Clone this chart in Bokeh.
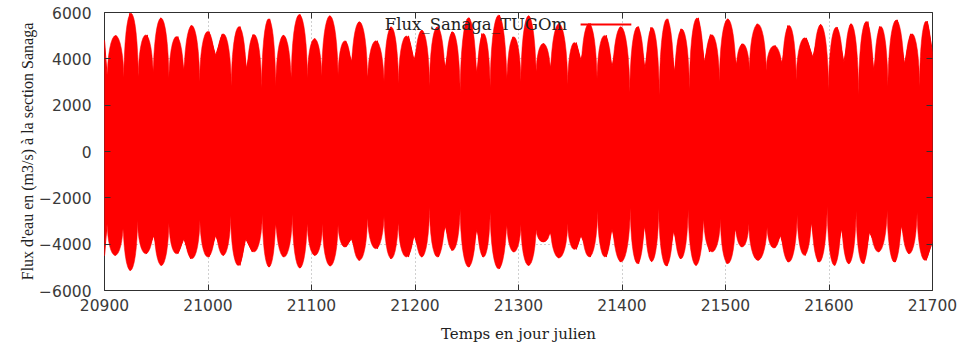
from bokeh.plotting import figure
from bokeh.models import FixedTicker, LinearAxis, Label, BoxAnnotation, Range1d, ColumnDataSource
from bokeh.embed import file_html
from bokeh.resources import INLINE

# Upper envelope of the tidal flux: day, m3/s
# (odd indices = neap dips, even indices = spring peaks)
upper_day = [20900, 20902.6, 20911, 20918.7, 20924.5, 20932.6, 20941.3, 20947, 20954.2, 20962.2,
             20970.9, 20976.7, 20983.8, 20991.9, 21000.9, 21007.4, 21013.8, 21022.5, 21030.9, 21037.3,
             21043.5, 21051.8, 21059.6, 21065.4, 21072.8, 21080.5, 21088.9, 21096, 21103.1, 21109.9,
             21117.6, 21125.6, 21133.1, 21138.6, 21146, 21154, 21163.7, 21170.1, 21176.6, 21184,
             21193.7, 21199.1, 21206.6, 21214, 21222.7, 21229.1, 21235.6, 21243.6, 21252.3, 21259.8,
             21264.6, 21272.6, 21281.7, 21288.8, 21294.6, 21302.3, 21309.8, 21317.1, 21324.3, 21330.7,
             21338.8, 21347.5, 21355.8, 21360.3, 21369.4, 21375.8, 21384.8, 21390.3, 21398.4, 21407.5,
             21416, 21422.2, 21428, 21436, 21444.2, 21450.6, 21457, 21465.1, 21473.8, 21479.6,
             21485.4, 21494.1, 21502.2, 21510.3, 21515.8, 21523.1, 21530.6, 21539.3, 21548, 21554.7,
             21560.2, 21568.3, 21578, 21584.4, 21591.8, 21599.5, 21607.9, 21614.4, 21620.8, 21628.5,
             21637.6, 21643.4, 21648.8, 21656.9, 21666, 21673, 21678.8, 21687.5, 21695, 21700]
upper_val = [4800, 3200, 5005, 3061, 5968, 3133, 5033, 3277, 5768, 2989,
             4961, 3420, 5437, 2917, 5178, 4141, 5077, 2702, 5394, 3565,
             5048, 2629, 5725, 2642, 5018, 3074, 5912, 3074, 4875, 3147,
             5855, 3118, 4775, 3868, 5596, 3147, 4780, 2788, 5380, 2858,
             4991, 3938, 5234, 2715, 5380, 3579, 5164, 2356, 5769, 3290,
             5091, 2572, 5882, 2931, 4948, 2858, 5855, 3363, 4659, 3579,
             5523, 2788, 4702, 3938, 5523, 2931, 5018, 3652, 5380, 2420,
             5390, 3566, 5360, 2270, 5726, 3420, 5294, 2555, 5769, 3852,
             5048, 2918, 5726, 3709, 4646, 3420, 5510, 3420, 4573, 3782,
             5437, 2988, 4905, 4068, 5480, 2555, 5365, 3852, 5510, 2339,
             5609, 3420, 5394, 2629, 5683, 3782, 5078, 2702, 5623, 4300]

# Lower envelope of the tidal flux: day, m3/s
# (odd indices = neap rises, even indices = spring troughs)
lower_day = [20900, 20902.6, 20910.3, 20918, 20924.8, 20931.9, 20940.6, 20947.7, 20954.8, 20962.2,
             20970.9, 20976.7, 20983.2, 20992.2, 21000.9, 21007.4, 21014.8, 21021.9, 21030.9, 21036.4,
             21042.8, 21052.5, 21059, 21065.4, 21072.8, 21081.5, 21088.9, 21096, 21103.1, 21110.6,
             21117.9, 21125.6, 21133.1, 21138.6, 21146, 21154, 21163.7, 21170.1, 21176.6, 21184,
             21193.7, 21199.1, 21206.6, 21214, 21222.7, 21229.1, 21235.6, 21243.6, 21252.3, 21259.8,
             21265.6, 21272.6, 21281.7, 21288.8, 21295.3, 21302.3, 21309.8, 21317.1, 21324.3, 21330.7,
             21338.8, 21347.5, 21355.8, 21360.3, 21369.4, 21376.4, 21384.8, 21390.3, 21398.4, 21408,
             21416.1, 21421.9, 21428.5, 21435.5, 21443.5, 21450, 21456.4, 21463.9, 21471.6, 21479,
             21484.5, 21495.1, 21501.5, 21509.6, 21515.4, 21522.5, 21531.5, 21540.2, 21547.6, 21553.1,
             21560.5, 21569.2, 21577.2, 21583, 21589.5, 21598.2, 21605.6, 21612, 21619.1, 21626.2,
             21633.6, 21639.1, 21648.1, 21656.2, 21664.2, 21670, 21677.1, 21685.1, 21693.8, 21700]
lower_val = [-4500, -3040, -4486, -3190, -5134, -2902, -4413, -3622, -4918, -2930,
             -4413, -3765, -4629, -2827, -4556, -3622, -4486, -2685, -4918, -3765,
             -4340, -2612, -4988, -3045, -4556, -2612, -5031, -3045, -4486, -3045,
             -4945, -3045, -4124, -3765, -4701, -2827, -4197, -2612, -4629, -3045,
             -4556, -3622, -4556, -2326, -4556, -3190, -4270, -2326, -4988, -3333,
             -4556, -2469, -5061, -3045, -4340, -3045, -4918, -3333, -3908, -3477,
             -4600, -3045, -4225, -3622, -4556, -2469, -4556, -3333, -4773, -2326,
             -4845, -3190, -4750, -2326, -4945, -3405, -4629, -2326, -4918, -2827,
             -4340, -2827, -4845, -3333, -4124, -3045, -4701, -3190, -4167, -3622,
             -4773, -2612, -4486, -3045, -4773, -2180, -4918, -3333, -4845, -2397,
             -4845, -3477, -4340, -2397, -4773, -3190, -4413, -2469, -4701, -3900]

x_ticks = [20900, 21000, 21100, 21200, 21300, 21400, 21500, 21600, 21700]
y_ticks = [-6000, -4000, -2000, 0, 2000, 4000, 6000]

series_name = "Flux_Sanaga_TUGOm"
x_title = "Temps en jour julien"
y_title = "Flux d'eau en (m3/s) à la section Sanaga"

RED = "#ff0000"

p = figure(width=961, height=347, output_backend="svg", toolbar_location=None,
           x_range=Range1d(20900, 21700), y_range=Range1d(-6000, 6000),
           min_border_left=104, min_border_right=29, min_border_top=12, min_border_bottom=57,
           background_fill_color="white", border_fill_color="white")

# envelope polygon through the dips and peaks
poly_x = upper_day + lower_day[::-1]
poly_y = upper_val + lower_val[::-1]
p.patch(poly_x, poly_y, fill_color=RED, line_color=RED, line_width=1)

# rounded spring-tide arches: one half-ellipse per peak, spanning its two neighbouring dips
def arches(days, vals, upper):
    xs, ys, ws, hs = [], [], [], []
    for i in range(2, len(days) - 1, 2):
        d1, d2 = days[i - 1], days[i + 1]
        base = min(vals[i - 1], vals[i + 1]) if upper else max(vals[i - 1], vals[i + 1])
        xs.append((d1 + d2) / 2)
        ys.append(base)
        ws.append(d2 - d1)
        hs.append(2 * abs(vals[i] - base))
    return ColumnDataSource(dict(x=xs, y=ys, w=ws, h=hs))

for src in (arches(upper_day, upper_val, True), arches(lower_day, lower_val, False)):
    p.ellipse(x="x", y="y", width="w", height="h", source=src,
              fill_color=RED, line_color=RED, line_width=0.5)

p.outline_line_color = "#303030"
p.outline_line_width = 1

for g, t in ((p.xgrid, x_ticks), (p.ygrid, y_ticks)):
    g.ticker = FixedTicker(ticks=t)
    g.grid_line_color = "#a0a0a0"
    g.grid_line_dash = "1 3"
    g.grid_line_width = 1

def style_axis(ax, ticks, show_labels=True):
    ax.ticker = FixedTicker(ticks=ticks)
    ax.axis_line_color = None
    ax.major_tick_in = 6
    ax.major_tick_out = 0
    ax.major_tick_line_color = "#303030"
    ax.minor_tick_line_color = None
    ax.major_label_text_font = "DejaVu Sans"
    ax.major_label_text_font_size = "15.5px"
    ax.major_label_text_color = "#3a3a3a"
    if not show_labels:
        ax.major_label_overrides = {t: "" for t in ticks}
        ax.major_label_text_font_size = "1px"
        ax.major_label_standoff = 0

bottom_ax = p.below[0]
left_ax = p.left[0]
style_axis(bottom_ax, x_ticks)
style_axis(left_ax, y_ticks)
bottom_ax.major_label_standoff = 8
left_ax.major_label_standoff = 13

top_ax = LinearAxis()
right_ax = LinearAxis()
style_axis(top_ax, x_ticks, False)
style_axis(right_ax, y_ticks, False)
p.add_layout(top_ax, "above")
p.add_layout(right_ax, "right")

bottom_ax.axis_label = x_title
bottom_ax.axis_label_text_font = "DejaVu Serif"
bottom_ax.axis_label_text_font_style = "normal"
bottom_ax.axis_label_text_font_size = "15px"
bottom_ax.axis_label_text_color = "#222222"
bottom_ax.axis_label_standoff = 11

left_ax.axis_label = y_title
left_ax.axis_label_text_font = "Liberation Serif"
left_ax.axis_label_text_font_style = "normal"
left_ax.axis_label_text_font_size = "16px"
left_ax.axis_label_text_color = "#222222"
left_ax.axis_label_standoff = 0

# gnuplot-style key: text then line sample
p.add_layout(Label(x=21347, y=5480, text=series_name, text_font="DejaVu Serif",
                   text_font_size="16.5px", text_color="#222222", text_align="right",
                   text_baseline="middle"))
p.add_layout(BoxAnnotation(left=21360, right=21409, bottom=5440, top=5520,
                           fill_color=RED, fill_alpha=1, line_color=None))

open("out.html", "w").write(file_html(p, INLINE))
